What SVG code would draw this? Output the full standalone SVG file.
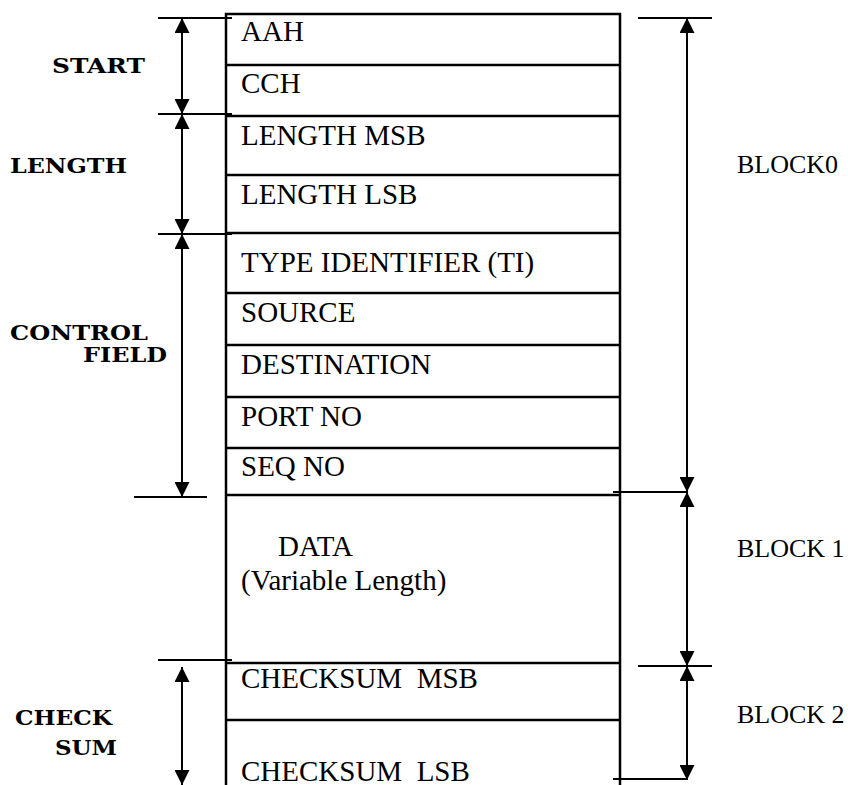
<svg xmlns="http://www.w3.org/2000/svg" width="848" height="785" viewBox="0 0 848 785">
<style>
.box{fill:none;stroke:#000;stroke-width:2.5}
.div{stroke:#000;stroke-width:2.5}
.tick{stroke:#000;stroke-width:2}
.dim{stroke:#000;stroke-width:2;fill:none;marker-start:url(#ah);marker-end:url(#ah)}
.f{font-family:"Liberation Serif","Times New Roman",serif;font-size:29px;fill:#000}
.b{font-family:"Liberation Serif","Times New Roman",serif;font-size:26px;fill:#000}
.l{font-family:"DejaVu Serif",serif;font-weight:bold;font-size:21px;fill:#000}
</style>
<defs>
<marker id="ah" viewBox="0 0 10 10" refX="10" refY="5" markerWidth="15" markerHeight="15" markerUnits="userSpaceOnUse" orient="auto-start-reverse">
<path d="M0,0 L10,5 L0,10 z" fill="#000"/>
</marker>
</defs>
<rect width="848" height="785" fill="#fff"/>
<g id="frame">
<path class="box" d="M226,785 V14 H620 V785"/>
</g>
<g id="row-aah"><text class="f" x="241" y="41">AAH</text></g>
<line class="div" x1="226" y1="65" x2="620" y2="65"/>
<g id="row-cch"><text class="f" x="241" y="93">CCH</text></g>
<line class="div" x1="226" y1="116" x2="620" y2="116"/>
<g id="row-lenmsb"><text class="f" x="241" y="145">LENGTH MSB</text></g>
<line class="div" x1="226" y1="175" x2="620" y2="175"/>
<g id="row-lenlsb"><text class="f" x="241" y="204">LENGTH LSB</text></g>
<line class="div" x1="226" y1="233" x2="620" y2="233"/>
<g id="row-ti"><text class="f" x="241" y="272">TYPE IDENTIFIER (TI)</text></g>
<line class="div" x1="226" y1="293" x2="620" y2="293"/>
<g id="row-source"><text class="f" x="241" y="322">SOURCE</text></g>
<line class="div" x1="226" y1="345" x2="620" y2="345"/>
<g id="row-dest"><text class="f" x="241" y="374">DESTINATION</text></g>
<line class="div" x1="226" y1="397" x2="620" y2="397"/>
<g id="row-port"><text class="f" x="241" y="426">PORT NO</text></g>
<line class="div" x1="226" y1="448" x2="620" y2="448"/>
<g id="row-seq"><text class="f" x="241" y="476">SEQ NO</text></g>
<line class="div" x1="226" y1="495" x2="620" y2="495"/>
<g id="row-data"><text class="f" x="278" y="556">DATA</text><text class="f" x="241" y="590">(Variable Length)</text></g>
<line class="div" x1="226" y1="663" x2="620" y2="663"/>
<g id="row-csmsb"><text class="f" x="241" y="688" xml:space="preserve">CHECKSUM  MSB</text></g>
<line class="div" x1="226" y1="720" x2="620" y2="720"/>
<g id="row-cslsb"><text class="f" x="241" y="781" xml:space="preserve">CHECKSUM  LSB</text></g>

<g id="connectors">
<line class="tick" x1="158" y1="18" x2="232" y2="18"/>
<line class="tick" x1="158" y1="114" x2="232" y2="114"/>
<line class="tick" x1="158" y1="234" x2="232" y2="234"/>
<line class="tick" x1="134" y1="497" x2="207" y2="497"/>
<line class="tick" x1="158" y1="660" x2="232" y2="660"/>
<line class="dim" x1="182" y1="18" x2="182" y2="114"/>
<line class="dim" x1="182" y1="114" x2="182" y2="234"/>
<line class="dim" x1="182" y1="234" x2="182" y2="497"/>
<line class="dim" x1="182" y1="667" x2="182" y2="785"/>
<line class="tick" x1="638" y1="18" x2="712" y2="18"/>
<line class="tick" x1="613" y1="492" x2="687" y2="492"/>
<line class="tick" x1="638" y1="666" x2="712" y2="666"/>
<line class="tick" x1="613" y1="779" x2="687" y2="779"/>
<line class="dim" x1="687" y1="18" x2="687" y2="492"/>
<line class="dim" x1="687" y1="492" x2="687" y2="666"/>
<line class="dim" x1="687" y1="666" x2="687" y2="780"/>
</g>

<g id="label-start"><text class="l" x="52" y="73" textLength="93" lengthAdjust="spacingAndGlyphs">START</text></g>
<g id="label-length"><text class="l" x="10" y="173" textLength="117" lengthAdjust="spacingAndGlyphs">LENGTH</text></g>
<g id="label-control"><text class="l" x="10" y="340" textLength="138" lengthAdjust="spacingAndGlyphs">CONTROL</text><text class="l" x="83" y="362" textLength="84" lengthAdjust="spacingAndGlyphs">FIELD</text></g>
<g id="label-check"><text class="l" x="15" y="725" textLength="97" lengthAdjust="spacingAndGlyphs">CHECK</text><text class="l" x="55" y="755" textLength="62" lengthAdjust="spacingAndGlyphs">SUM</text></g>
<g id="label-block0"><text class="b" x="737" y="173">BLOCK0</text></g>
<g id="label-block1"><text class="b" x="737" y="557">BLOCK 1</text></g>
<g id="label-block2"><text class="b" x="737" y="723">BLOCK 2</text></g>
</svg>
